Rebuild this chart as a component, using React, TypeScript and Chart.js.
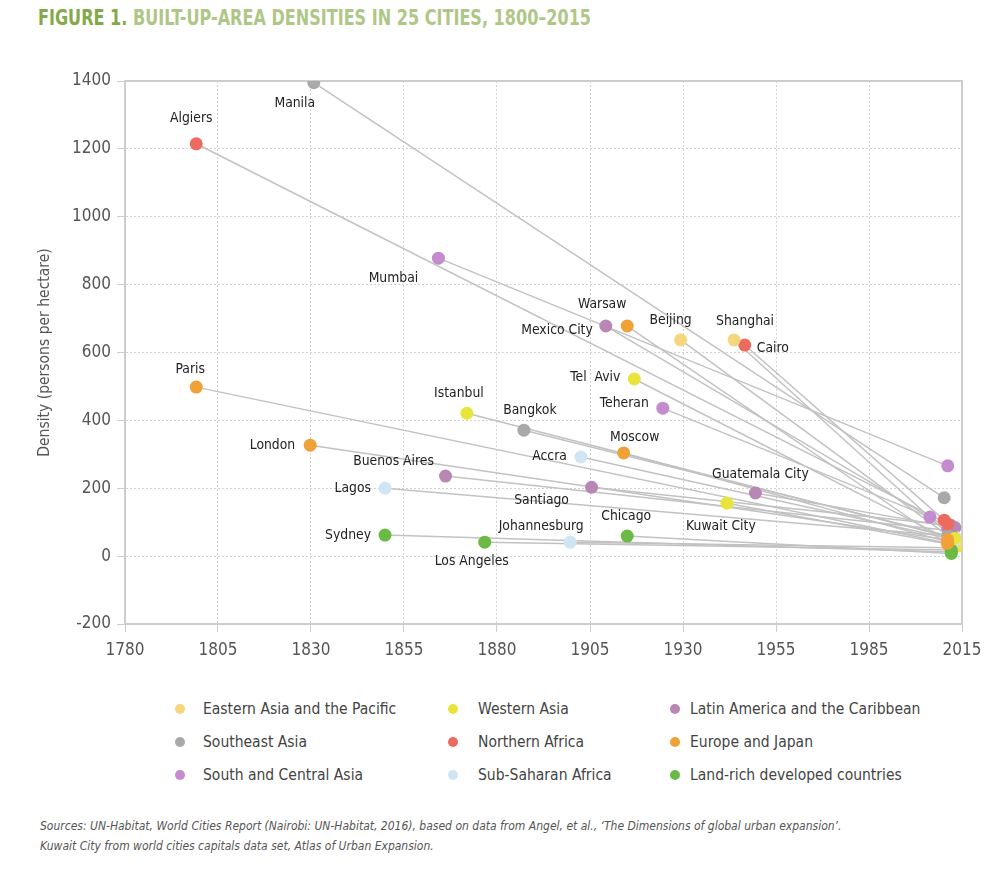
import React, { useEffect, useRef } from 'react';
import { Chart, registerables } from 'chart.js';
Chart.register(...registerables);

const REGION_NAMES = [
  'Eastern Asia and the Pacific', 'Southeast Asia', 'South and Central Asia',
  'Western Asia', 'Northern Africa', 'Sub-Saharan Africa',
  'Latin America and the Caribbean', 'Europe and Japan', 'Land-rich developed countries',
];
const REGION_COLORS = [
  '#f5d67e', '#a9a9a9', '#c58bcf',
  '#e9e43c', '#ec6b5e', '#cfe5f4',
  '#b887b6', '#f0a137', '#6aba45',
];

const CITIES = ['Manila', 'Algiers', 'Mumbai', 'Paris', 'London', 'Istanbul', 'Bangkok', 'Buenos Aires', 'Lagos', 'Sydney', 'Los Angeles', 'Johannesburg', 'Accra', 'Santiago', 'Chicago', 'Moscow', 'Mexico City', 'Warsaw', 'Beijing', 'Tel  Aviv', 'Teheran', 'Shanghai', 'Cairo', 'Guatemala City', 'Kuwait City'];
const CITY_REGION = [1, 4, 2, 7, 7, 3, 1, 6, 5, 8, 8, 5, 5, 6, 8, 7, 6, 7, 0, 3, 2, 0, 4, 6, 3];
const START_YEAR = [1833, 1800, 1868, 1800, 1832, 1876, 1892, 1870, 1853, 1853, 1881, 1905, 1908, 1911, 1921, 1920, 1915, 1921, 1936, 1923, 1931, 1951, 1954, 1957, 1949];
const START_DENSITY = [1395, 1215, 878, 498, 327, 421, 371, 236, 200, 62, 41, 41, 292, 203, 59, 304, 678, 678, 637, 522, 436, 637, 622, 186, 156];
const END_YEAR = [2010, 2011, 2011, 2011, 2011, 2013, 2011, 2012, 2013, 2012, 2012, 2012, 2013, 2012, 2012, 2011, 2011, 2011, 2013, 2013, 2006, 2014, 2010, 2013, 2014];
const END_DENSITY = [172, 95, 266, 38, 48, 52, 60, 75, 58, 12, 18, 25, 48, 90, 8, 42, 83, 35, 45, 40, 115, 38, 106, 84, 30];

const X_MIN = 1780;
const X_MAX = 2015;
const X_TICK_LABELS = ['1780', '1805', '1830', '1855', '1880', '1905', '1930', '1955', '1985', '2015'];
const Y_MIN = -200;
const Y_MAX = 1400;
const Y_STEP = 200;

// label layout: [dx, dy, align]
const LABEL_LAYOUT: [number, number, CanvasTextAlign][] = [
  [-19, 21, 'center'], [-5, -25, 'center'], [-45, 20, 'center'], [-6, -18, 'center'], [-15, 0, 'right'],
  [-8, -20, 'center'], [6, -20, 'center'], [-52, -15, 'center'], [-14, 0, 'right'], [-14, 0, 'right'],
  [-13, 19, 'center'], [-29, -16, 'center'], [-14, -1, 'right'], [-50, 13, 'center'], [-1, -20, 'center'],
  [11, -16, 'center'], [-13, 4, 'right'], [-25, -22, 'center'], [-10, -20, 'center'], [-14, -2, 'right'],
  [-14, -5, 'right'], [11, -19, 'center'], [12, 3, 'left'], [5, -19, 'center'], [-6, 23, 'center'],
];

const FONT = "'Liberation Sans Narrow', 'DejaVu Sans Condensed', 'Liberation Sans', sans-serif";

const labelPlugin = {
  id: 'cityLabels',
  beforeDatasetsDraw(chart: any) {
    const { ctx, chartArea: a } = chart;
    ctx.save();
    ctx.strokeStyle = '#cdcdcd';
    ctx.lineWidth = 2;
    ctx.strokeRect(a.left, a.top, a.right - a.left, a.bottom - a.top);
    ctx.restore();
  },
  afterDatasetsDraw(chart: any) {
    const { ctx, scales } = chart;
    ctx.save();
    ctx.font = `13.8px ${FONT}`;
    ctx.fillStyle = '#222';
    ctx.textBaseline = 'middle';
    CITIES.forEach((name, i) => {
      const x = scales.x.getPixelForValue(START_YEAR[i]);
      const y = scales.y.getPixelForValue(START_DENSITY[i]);
      const [dx, dy, align] = LABEL_LAYOUT[i];
      ctx.textAlign = align;
      ctx.fillText(name, x + dx, y + dy);
    });
    ctx.restore();
  },
};

export default function App() {
  const ref = useRef<HTMLCanvasElement>(null);
  useEffect(() => {
    if (!ref.current) return;
    const lineSets = CITIES.map((c, i) => ({
      type: 'line' as const,
      label: c + ' line',
      data: [{ x: START_YEAR[i], y: START_DENSITY[i] }, { x: END_YEAR[i], y: END_DENSITY[i] }],
      borderColor: '#c2c2c2',
      borderWidth: 1.5,
      pointRadius: 0,
      fill: false,
      order: 2,
    }));
    const pointSets = CITIES.map((c, i) => ({
      type: 'scatter' as const,
      label: c,
      data: [{ x: START_YEAR[i], y: START_DENSITY[i] }, { x: END_YEAR[i], y: END_DENSITY[i] }],
      backgroundColor: REGION_COLORS[CITY_REGION[i]],
      borderWidth: 0,
      pointRadius: 6.5,
      showLine: false,
      order: 1,
    }));
    const chart = new Chart(ref.current, {
      type: 'scatter',
      data: { datasets: [...lineSets, ...pointSets] as any },
      options: {
        animation: false,
        responsive: false,
        layout: { padding: { left: 0, right: 38, top: 81, bottom: 0 } },
        plugins: { legend: { display: false }, tooltip: { enabled: false } },
        scales: {
          x: {
            type: 'linear',
            min: X_MIN,
            max: X_MAX,
            afterBuildTicks: (scale: any) => {
              scale.ticks = X_TICK_LABELS.map((_, i) => ({ value: X_MIN + (i * (X_MAX - X_MIN)) / (X_TICK_LABELS.length - 1) }));
            },
            afterFit: (scale: any) => { scale.height = 56; },
            ticks: {
              autoSkip: false,
              maxRotation: 0,
              padding: 8,
              color: '#555',
              font: { family: FONT, size: 17 },
              callback: (_v: any, i: number) => X_TICK_LABELS[i],
            },
            grid: { color: '#d2d2d2', lineWidth: 1, tickLength: 8, tickColor: '#cdcdcd' },
            border: { display: true, color: '#cdcdcd', width: 2, dash: [2, 2] },
          },
          y: {
            type: 'linear',
            min: Y_MIN,
            max: Y_MAX,
            afterFit: (scale: any) => { scale.width = 125; },
            ticks: {
              stepSize: Y_STEP,
              padding: 6,
              color: '#555',
              font: { family: FONT, size: 17 },
              callback: (v: any) => String(v),
            },
            grid: { color: '#d2d2d2', lineWidth: 1, tickLength: 8, tickColor: '#cdcdcd' },
            border: { display: true, color: '#cdcdcd', width: 2, dash: [2, 2] },
            title: {
              display: true,
              text: 'Density (persons per hectare)',
              color: '#555',
              font: { family: FONT, size: 15.5, weight: 'normal' },
              padding: { top: 36, bottom: 0 },
            },
          },
        },
      },
      plugins: [labelPlugin],
    } as any);
    return () => chart.destroy();
  }, []);

  const legendCols = [180, 453, 675];
  const legendTextCols = [203, 478, 690];
  const legendRows = [709, 742, 775];

  return (
    <div style={{ position: 'absolute', left: 0, top: 0, width: 1000, height: 871, background: '#fff', overflow: 'hidden' }}>
      <div style={{ position: 'absolute', left: 38, top: 6, fontFamily: FONT, fontWeight: 'bold', fontSize: 21, whiteSpace: 'nowrap', transform: 'scaleX(0.85)', transformOrigin: 'left top' }}>
        <span style={{ color: '#84a948' }}>FIGURE 1. </span>
        <span style={{ color: '#afc786' }}>BUILT-UP-AREA DENSITIES IN 25 CITIES, 1800–2015</span>
      </div>
      <canvas ref={ref} width={1000} height={680} style={{ position: 'absolute', left: 0, top: 0, width: 1000, height: 680 }} />
      {REGION_NAMES.map((name, i) => {
        const col = Math.floor(i / 3);
        const row = i % 3;
        return (
          <React.Fragment key={name}>
            <div style={{ position: 'absolute', left: legendCols[col] - 5, top: legendRows[row] - 5, width: 10, height: 10, borderRadius: 5, background: REGION_COLORS[i] }} />
            <div style={{ position: 'absolute', left: legendTextCols[col], top: legendRows[row] - 11, lineHeight: '22px', fontFamily: FONT, fontSize: 15.5, color: '#444', whiteSpace: 'nowrap' }}>{name}</div>
          </React.Fragment>
        );
      })}
      <div style={{ position: 'absolute', left: 40, top: 816, fontFamily: FONT, fontStyle: 'italic', fontSize: 12, lineHeight: '20px', color: '#555', whiteSpace: 'nowrap' }}>
        <div>Sources: UN-Habitat, World Cities Report (Nairobi: UN-Habitat, 2016), based on data from Angel, et al., ‘The Dimensions of global urban expansion’.</div>
        <div>Kuwait City from world cities capitals data set, Atlas of Urban Expansion.</div>
      </div>
    </div>
  );
}
